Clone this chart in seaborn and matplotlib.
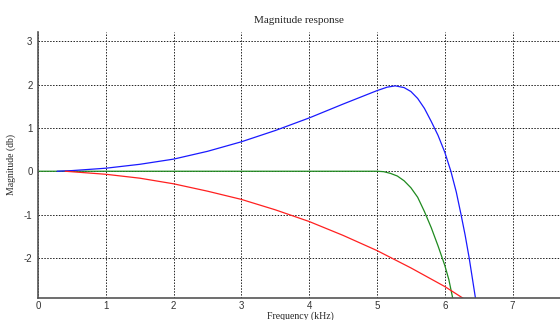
import numpy as np
import pandas as pd
import matplotlib
matplotlib.use("Agg")
import matplotlib.pyplot as plt
import seaborn as sns

# frequency (kHz) / magnitude (db)
blue_f = [0.28, 0.5, 1.0, 1.5, 2.0, 2.5, 3.0, 3.5, 4.0, 4.5, 5.0, 5.15, 5.27, 5.4, 5.5, 5.6, 5.7, 5.8, 5.9, 6.0, 6.09, 6.17, 6.24, 6.3, 6.36, 6.44, 6.47]
blue_db = [0.0, 0.015, 0.07, 0.16, 0.28, 0.46, 0.68, 0.94, 1.23, 1.55, 1.86, 1.94, 1.97, 1.93, 1.84, 1.68, 1.45, 1.15, 0.83, 0.44, 0.0, -0.48, -1.0, -1.47, -2.0, -2.8, -3.1]

red_f = [0.4, 1.0, 1.5, 2.0, 2.5, 3.0, 3.5, 4.0, 4.5, 5.0, 5.5, 6.0, 6.27, 6.32]
red_db = [0.0, -0.07, -0.16, -0.29, -0.46, -0.65, -0.89, -1.16, -1.48, -1.83, -2.23, -2.66, -2.93, -2.98]

green_f = [0.0, 5.0, 5.1, 5.2, 5.3, 5.4, 5.5, 5.6, 5.7, 5.8, 5.9, 6.0, 6.06, 6.12, 6.14]
green_db = [0.0, 0.0, -0.01, -0.05, -0.11, -0.22, -0.38, -0.6, -0.93, -1.3, -1.72, -2.17, -2.5, -2.95, -3.1]

sns.set_theme(style="white")
plt.rcParams["axes.edgecolor"] = "#555555"
plt.rcParams["axes.unicode_minus"] = False

fig = plt.figure(figsize=(5.6, 3.2), dpi=100)
ax = fig.add_axes([0.068, 0.068, 0.932, 0.833])

sns.lineplot(x=green_f, y=green_db, color="#1f8a1f", linewidth=0.9, ax=ax, sort=False)
sns.lineplot(x=blue_f, y=blue_db, color="#1a1aff", linewidth=0.9, ax=ax, sort=False)
sns.lineplot(x=red_f, y=red_db, color="#ff2020", linewidth=0.9, ax=ax, sort=False)

ax.set_xlim(0, 7.7)
ax.set_ylim(-2.93, 3.22)
ax.set_xticks(range(0, 8))
ax.set_yticks([-2, -1, 0, 1, 2, 3])
ax.grid(True, color="#222222", linestyle=(0, (1.5, 1.5)), linewidth=0.7)
ax.set_axisbelow(True)
for s in ["top", "right"]:
    ax.spines[s].set_visible(False)
ax.spines["left"].set_linewidth(1.2)
ax.spines["bottom"].set_linewidth(1.2)
ax.tick_params(direction="in", length=3, width=0.6, labelsize=7, pad=4, colors="#333333")
ax.tick_params(axis="x", pad=2)
for lab in ax.get_xticklabels() + ax.get_yticklabels():
    lab.set_family("Liberation Sans")

ax.set_title("Magnitude response", family="Liberation Serif", fontsize=8, pad=6)
ax.set_xlabel("Frequency (kHz)", family="Liberation Serif", fontsize=7)
ax.xaxis.set_label_coords(0.502, -0.05)
ax.set_ylabel("Magnitude (db)", family="Liberation Serif", fontsize=7)
ax.yaxis.set_label_coords(-0.042, 0.5)

fig.savefig("out.png", dpi=100)
